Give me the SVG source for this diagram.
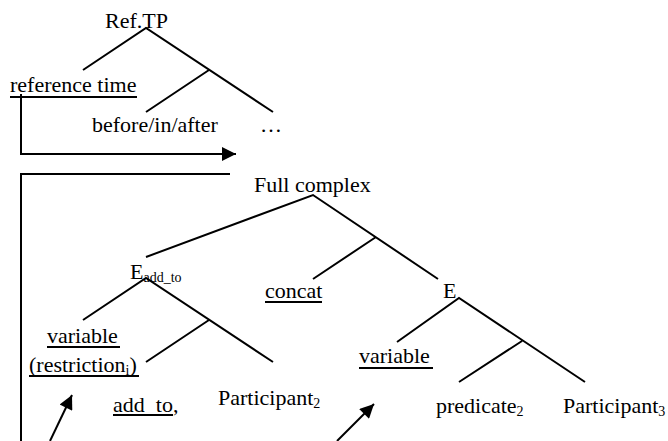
<svg xmlns="http://www.w3.org/2000/svg" width="668" height="441" viewBox="0 0 668 441">
<style>
.t{font-family:'Liberation Serif','Times New Roman',Times,serif;font-size:22px;fill:#000}
.sub{font-size:14px}
.ul{stroke:#000;stroke-width:2}
.edge{stroke:#000;stroke-width:2;fill:none}
</style>
<defs>
<marker id="ah" viewBox="0 0 10 10" refX="10" refY="5" markerWidth="8" markerHeight="7" markerUnits="strokeWidth" orient="auto">
<path d="M0,0 L10,5 L0,10 z" fill="#000"/>
</marker>
</defs>
<rect width="668" height="441" fill="#fff"/>
<g id="connectors">
<path class="edge" d="M83,70 L146,28 L273,112 M209,70 L146,112"/>
<path class="edge" d="M146,257 L313,195 L438,279 M376,237 L313,279"/>
<path class="edge" d="M83,320 L146,278 L273,362 M209,320 L146,362"/>
<path class="edge" d="M397,342 L459,298 L585,382 M522,341 L459,382"/>
<path class="edge" d="M21,94 V154 H236" marker-end="url(#ah)"/>
<path class="edge" d="M230,174 H21 V441"/>
<path class="edge" d="M50,441 L72,395" marker-end="url(#ah)"/>
<path class="edge" d="M337,441 L374,404" marker-end="url(#ah)"/>
</g>
<g font-family="Liberation Serif, serif" font-size="22">
<g id="reftp"><text class="t" x="105" y="28">Ref.TP</text></g>
<g id="reftime"><text class="t" x="10" y="92">reference time</text><line class="ul" x1="10" y1="97" x2="137" y2="97"/></g>
<g id="before"><text class="t" x="92" y="132">before/in/after</text></g>
<g id="dots"><text class="t" x="260" y="132">…</text></g>
<g id="full"><text class="t" x="254" y="192">Full complex</text></g>
<g id="eaddto"><text class="t" x="130" y="279">E<tspan class="sub" dy="3">add_to</tspan></text></g>
<g id="concat"><text class="t" x="265" y="298">concat</text><line class="ul" x1="265" y1="302" x2="322" y2="302"/></g>
<g id="e"><text class="t" x="443" y="298">E</text></g>
<g id="variable1"><text class="t" x="47" y="343">variable</text><line class="ul" x1="47" y1="347" x2="120" y2="347"/>
<text class="t" x="29" y="372">(restriction<tspan class="sub" dy="3">i</tspan><tspan dy="-3">)</tspan></text><line class="ul" x1="29" y1="376" x2="139" y2="376"/></g>
<g id="addto"><text class="t" x="113" y="412">add_to,</text><line class="ul" x1="113" y1="415" x2="173" y2="415"/></g>
<g id="participant2"><text class="t" x="218" y="405">Participant<tspan class="sub" dy="3">2</tspan></text></g>
<g id="variable2"><text class="t" x="359" y="363">variable</text><line class="ul" x1="359" y1="368" x2="433" y2="368"/></g>
<g id="predicate2"><text class="t" x="436" y="413">predicate<tspan class="sub" dy="3">2</tspan></text></g>
<g id="participant3"><text class="t" x="563" y="413">Participant<tspan class="sub" dy="3">3</tspan></text></g>
</g>
</svg>
